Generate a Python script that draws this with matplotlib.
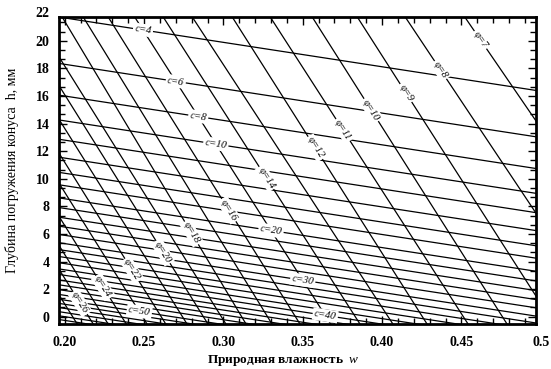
import numpy as np
import matplotlib
matplotlib.use("Agg")
import matplotlib.pyplot as plt
from matplotlib.ticker import MultipleLocator, FixedLocator
from matplotlib.transforms import offset_copy

# ---------------- data ----------------
# c-lines (cohesion): depth h at w = 0.20 and at w = 0.50
c_values = [4, 6, 8, 10, 12, 14, 16, 18, 20, 22, 24, 26, 28, 30, 32, 34, 36,
            38, 40, 42, 44, 46, 48, 50, 52, 54, 56, 58, 60]
c_h_w020 = [21.66, 18.3, 16.0, 14.2, 12.8, 11.5, 10.4, 9.5, 8.55, 7.85, 7.15,
            6.5, 5.9, 5.3, 4.8, 4.3, 3.85, 3.4, 3.0, 2.6, 2.25, 1.9, 1.55, 1.2,
            0.9, 0.6, 0.3, 0.0, -0.27]
c_h_w050 = [16.35, 12.99, 10.69, 8.89, 7.49, 6.19, 5.09, 4.19, 3.24, 2.54, 1.84,
            1.19, 0.59, -0.01, -0.51, -1.01, -1.46, -1.91, -2.31, -2.71, -3.06,
            -3.41, -3.76, -4.11, -4.41, -4.71, -5.01, -5.31, -5.58]

# phi-lines (friction angle): moisture w at h = 0 and at h = 20
phi_values = [7, 8, 9, 10, 11, 12, 13, 14, 15, 16, 17, 18, 19, 20, 21, 22, 23,
              24, 25, 26, 27]
phi_w_h0 = [0.5815, 0.5405, 0.5053, 0.4758, 0.4512, 0.4254, 0.4038, 0.3831,
            0.3647, 0.3454, 0.3278, 0.3115, 0.2987, 0.2874, 0.2742, 0.2608,
            0.2490, 0.2359, 0.2245, 0.2151, 0.2050]
phi_w_h20 = [0.4624, 0.4246, 0.3940, 0.3655, 0.3392, 0.3151, 0.2902, 0.2717,
             0.2537, 0.2368, 0.2209, 0.2074, 0.1901, 0.1788, 0.1655, 0.1522,
             0.1404, 0.1273, 0.1159, 0.1065, 0.0964]

# labelled contours
c_labelled = [4, 6, 8, 10, 20, 30, 40, 50]
c_label_on_phi = [15, 15, 15, 15, 15, 15, 15, 23]
phi_labelled = [7, 8, 9, 10, 11, 12, 14, 16, 18, 20, 22, 24, 26]
phi_label_h = [20.07, 17.89, 16.22, 14.99, 13.54, 12.24, 10.06, 7.73, 6.07,
               4.69, 3.39, 2.16, 1.00]

x_ticks = [0.20, 0.25, 0.30, 0.35, 0.40, 0.45]
x_tick_labels = ["0.20", "0.25", "0.30", "0.35", "0.40", "0.45"]
y_ticks = [0, 2, 4, 6, 8, 10, 12, 14, 16, 18, 20]

# ---------------- figure ----------------
plt.rcParams['font.family'] = ['Liberation Serif', 'DejaVu Serif']
plt.rcParams['mathtext.fontset'] = 'custom'
plt.rcParams['mathtext.it'] = 'Liberation Serif:italic'
plt.rcParams['mathtext.rm'] = 'Liberation Serif'

W, H = 551, 369
fig = plt.figure(figsize=(W / 100, H / 100), dpi=100)
ax = fig.add_axes([59.3 / W, 1 - 324 / H, 476.4 / W, 307.3 / H])
ax.set_xlim(0.1966, 0.4968)
ax.set_ylim(-0.53, 21.75)

# c-lines
wgrid = np.array([0.15, 0.55])
c_lines = {}
for c, h1, h2 in zip(c_values, c_h_w020, c_h_w050):
    k = (h2 - h1) / 0.3
    c_lines[c] = (h1, k)
    ax.plot(wgrid, h1 + k * (wgrid - 0.2), color='black', lw=0.9, zorder=2)

# phi-lines
hgrid = np.array([-5.0, 30.0])
phi_lines = {}
for p, w0, w20 in zip(phi_values, phi_w_h0, phi_w_h20):
    m = (w20 - w0) / 20.0  # dw/dh
    phi_lines[p] = (w0, m)
    ax.plot(w0 + m * hgrid, hgrid, color='black', lw=0.9, zorder=2)


def screen_angle(p0, p1):
    a = ax.transData.transform(p0)
    b = ax.transData.transform(p1)
    return np.degrees(np.arctan2(b[1] - a[1], b[0] - a[0]))


lab_kw = dict(fontsize=7.5, fontstyle='italic', ha='center', va='center',
              zorder=5, rotation_mode='anchor',
              bbox=dict(fc='white', ec='none', pad=1.2))

# c labels: at intersection of the c-line with a phi-line
for c, p in zip(c_labelled, c_label_on_phi):
    h1, k = c_lines[c]
    w0, m = phi_lines[p]
    h = (h1 + k * (w0 - 0.2)) / (1 - k * m)
    w = w0 + m * h
    ang = screen_angle((0.2, h1), (0.5, h1 + k * 0.3))
    ax.text(w, h, f"c={c}", rotation=ang, **lab_kw)

# phi labels
for p, h in zip(phi_labelled, phi_label_h):
    w0, m = phi_lines[p]
    w = w0 + m * h
    ang = screen_angle((w0 + m * 20, 20), (w0, 0))
    ax.text(w, h, f"φ={p}", rotation=ang, **lab_kw)

# axes styling
for s in ax.spines.values():
    s.set_linewidth(2.0)
ax.xaxis.set_major_locator(FixedLocator(x_ticks))
ax.set_xticklabels(x_tick_labels)
ax.xaxis.set_minor_locator(MultipleLocator(0.01))
ax.yaxis.set_major_locator(FixedLocator(y_ticks))
ax.yaxis.set_minor_locator(MultipleLocator(2 / 3))
ax.tick_params(which='both', direction='in', top=True, right=True, width=1)
ax.tick_params(which='major', length=6)
ax.tick_params(which='minor', length=4)
ax.tick_params(axis='x', which='major', pad=8.5)
ax.tick_params(axis='y', which='major', pad=7)
for t in ax.get_xticklabels() + ax.get_yticklabels():
    t.set_fontweight('bold')
    t.set_fontsize(10)

# tick labels lying just outside the frame
ax.text(0.5, 0, "0.5", transform=offset_copy(ax.get_xaxis_transform(), fig, y=-8.5, units='points'),
        ha='center', va='top', fontsize=10, fontweight='bold', clip_on=False)
ax.text(0, 22, "22", transform=offset_copy(ax.get_yaxis_transform(), fig, x=-7, units='points'),
        ha='right', va='center', fontsize=10, fontweight='bold', clip_on=False)

ax.set_xlabel("Природная влажность  $w$", fontsize=9.5, fontweight='bold')
ax.xaxis.set_label_coords((283 - 59.3) / 476.4, (324 - 360) / 307.3)
ax.xaxis.label.set_va('center')
ax.set_ylabel("Глубина погружения конуса  h, мм", fontsize=10)
ax.yaxis.set_label_coords((19 - 59.3) / 476.4, 0.5)

fig.savefig("out.png", dpi=100)
